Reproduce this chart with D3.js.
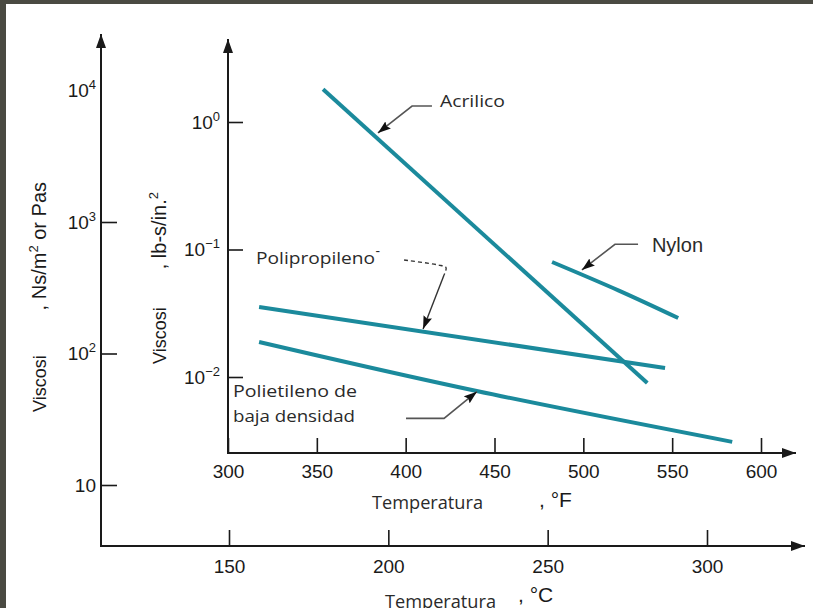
<!DOCTYPE html>
<html>
<head>
<meta charset="utf-8">
<script src="https://cdn.jsdelivr.net/npm/d3@7"></script>
<style>
  body { margin: 0; background: #fff; }
  svg { display: block; }
  .tick text { font-family: 'Liberation Sans', Arial, sans-serif; fill: #1a1a1a; }
  .tick line { stroke: #1a1a1a; stroke-width: 1.6; }
</style>
</head>
<body>
<script>
// temperature ticks
var TICKS_F = [300, 350, 400, 450, 500, 550, 600];
var TICKS_C = [150, 200, 250, 300];
// viscosity ticks
var TICKS_LB = [0.01, 0.1, 1];
var TICKS_PA = [10, 100, 1000, 10000];

// series, [temperature F, viscosity lb-s/in2]
var acrilico = [[353.5, 1.81], [536, 0.00897]];
var nylon = [[482.4, 0.0798], [520, 0.0476], [553.4, 0.029]];
var polipropileno = [[317.5, 0.0354], [546, 0.01177]];
var polietileno = [[317.5, 0.0188], [440, 0.00776], [583.8, 0.0031]];

// annotation leaders, same units as the series
var leaderAcrilico = [[414.8, 1.335], [403.6, 1.335], [384.4, 0.82]];
var leaderNylon = [[530.8, 0.1099], [517.8, 0.1099], [499.2, 0.0691]];
var leaderPPdash = [[399.1, 0.0827], [418.2, 0.0756], [422.7, 0.0722], [421.6, 0.0631]];
var leaderPP = [[421.6, 0.0631], [409.8, 0.0238]];
var leaderPE = [[400.2, 0.00474], [421.6, 0.00474], [440.1, 0.00767]];

var W = 813, H = 608;
var teal = '#1b8a9c';
var ink = '#1a1a1a';
var arial = "'Liberation Sans', Arial, sans-serif";
var soft = "'Open Sans', Lato, sans-serif";

var svg = d3.select('body').append('svg')
  .attr('width', W)
  .attr('height', H);

// dark frame on top and left
svg.append('rect').attr('width', W).attr('height', H).attr('fill', '#4a4a42');
svg.append('rect').attr('x', 6).attr('y', 4).attr('width', W - 6).attr('height', H - 4).attr('fill', '#fff');

var defs = svg.append('defs');
defs.append('marker')
  .attr('id', 'axisArrow')
  .attr('viewBox', '0 -5 14 10')
  .attr('refX', 14).attr('refY', 0)
  .attr('markerWidth', 14).attr('markerHeight', 10)
  .attr('markerUnits', 'userSpaceOnUse')
  .attr('orient', 'auto')
  .append('path').attr('d', 'M0,-5L14,0L0,5Z').attr('fill', ink);
defs.append('marker')
  .attr('id', 'leadArrow')
  .attr('viewBox', '0 -4.5 13 9')
  .attr('refX', 13).attr('refY', 0)
  .attr('markerWidth', 13).attr('markerHeight', 9)
  .attr('markerUnits', 'userSpaceOnUse')
  .attr('orient', 'auto')
  .append('path').attr('d', 'M0,-4.5L13,0L0,4.5L2,0Z').attr('fill', '#111');

// scales
var xF = d3.scaleLinear().domain([300, 600]).range([228, 761]);
var yLb = d3.scaleLog().domain([0.01, 1]).range([377, 122]);
var xC = d3.scaleLinear().domain([150, 300]).range([229, 707]);
var yPa = d3.scaleLog().domain([10, 10000]).range([485, 90.5]);

var outerX = 101, outerY = 546;
var innerX = 228, innerY = 453;

// axis lines with arrows
function axisLine(x1, y1, x2, y2) {
  svg.append('line')
    .attr('x1', x1).attr('y1', y1).attr('x2', x2).attr('y2', y2)
    .attr('stroke', ink).attr('stroke-width', 2)
    .attr('marker-end', 'url(#axisArrow)');
}
axisLine(outerX, outerY, outerX, 34);
axisLine(outerX - 1, outerY, 805, outerY);
axisLine(innerX, innerY, innerX, 39);
axisLine(innerX - 1, innerY, 796, innerY);

var supDigits = { '-2': '\u22122', '-1': '\u22121', '0': '0', '2': '2', '3': '3', '4': '4' };
function powerLabel(sel, skipOne) {
  sel.selectAll('.tick text').each(function(d) {
    var t = d3.select(this);
    var e = Math.round(Math.log10(d));
    t.text(null);
    t.append('tspan').text('10');
    if (!(skipOne && e === 1)) {
      t.append('tspan').attr('dy', -8).attr('font-size', 13).text(supDigits[String(e)]);
    }
  });
}

// outer y axis (Pa s)
var gPa = svg.append('g')
  .attr('transform', 'translate(' + outerX + ',0)')
  .call(d3.axisLeft(yPa).tickValues(TICKS_PA).tickSizeInner(-16).tickSizeOuter(0).tickPadding(5).tickFormat(''))
  .style('font-size', '19px');
gPa.select('.domain').remove();
powerLabel(gPa, true);
gPa.selectAll('.tick').filter(function(d) { return d === 10000; }).select('line').remove();

// inner y axis (lb-s/in2)
var gLb = svg.append('g')
  .attr('transform', 'translate(' + innerX + ',0)')
  .call(d3.axisLeft(yLb).tickValues(TICKS_LB).tickSizeInner(-15).tickSizeOuter(0).tickPadding(8).tickFormat(''))
  .style('font-size', '19px');
gLb.select('.domain').remove();
powerLabel(gLb, false);

// inner x axis (F)
var gF = svg.append('g')
  .attr('transform', 'translate(0,' + innerY + ')')
  .call(d3.axisBottom(xF).tickValues(TICKS_F).tickSizeInner(-15).tickSizeOuter(0).tickPadding(12))
  .style('font-size', '19px');
gF.select('.domain').remove();

// outer x axis (C)
var gC = svg.append('g')
  .attr('transform', 'translate(0,' + outerY + ')')
  .call(d3.axisBottom(xC).tickValues(TICKS_C).tickSizeInner(-16).tickSizeOuter(0).tickPadding(14))
  .style('font-size', '19px');
gC.select('.domain').remove();

// series
var line = d3.line()
  .x(function(d) { return xF(d[0]); })
  .y(function(d) { return yLb(d[1]); })
  .curve(d3.curveNatural);

[acrilico, nylon, polipropileno, polietileno].forEach(function(s) {
  svg.append('path')
    .attr('d', line(s))
    .attr('fill', 'none')
    .attr('stroke', teal)
    .attr('stroke-width', 4);
});

// leaders
var lead = d3.line()
  .x(function(d) { return xF(d[0]); })
  .y(function(d) { return yLb(d[1]); });

[leaderAcrilico, leaderNylon, leaderPE].forEach(function(s) {
  svg.append('path')
    .attr('d', lead(s))
    .attr('fill', 'none')
    .attr('stroke', '#555')
    .attr('stroke-width', 1.6)
    .attr('marker-end', 'url(#leadArrow)');
});
svg.append('path')
  .attr('d', lead.curve(d3.curveCatmullRom)(leaderPPdash))
  .attr('fill', 'none')
  .attr('stroke', '#333')
  .attr('stroke-width', 1.4)
  .attr('stroke-dasharray', '4,3');
lead.curve(d3.curveLinear);
svg.append('path')
  .attr('d', lead(leaderPP))
  .attr('fill', 'none')
  .attr('stroke', '#333')
  .attr('stroke-width', 1.4)
  .attr('marker-end', 'url(#leadArrow)');

// series labels
function label(txt, f, v, family, size, len) {
  var t = svg.append('text')
    .attr('x', xF(f)).attr('y', yLb(v))
    .attr('font-family', family)
    .attr('font-size', size)
    .attr('fill', '#2a2a2a')
    .text(txt);
  if (len) t.attr('textLength', len).attr('lengthAdjust', 'spacingAndGlyphs');
}
label('Acrilico', 419.3, 1.311, soft, 16, 65);
label('Nylon', 538.6, 0.0964, arial, 20, 0);
label('Polipropileno', 315.8, 0.0769, soft, 16, 119);
label('-', 383, 0.0889, soft, 14, 0);
label('Polietileno de', 302.8, 0.00697, soft, 16, 124);
label('baja densidad', 302.8, 0.00446, soft, 16, 122);

// axis titles
function vTitle(cx, yStart, yEnd, unitParts) {
  svg.append('text')
    .attr('transform', 'translate(' + cx + ',' + yStart + ') rotate(-90)')
    .attr('font-family', arial).attr('font-size', 18).attr('fill', ink)
    .text('Viscosi');
  var t = svg.append('text')
    .attr('transform', 'translate(' + cx + ',' + yEnd + ') rotate(-90)')
    .attr('text-anchor', 'end')
    .attr('font-family', arial).attr('font-size', 20).attr('fill', ink);
  t.append('tspan').text(unitParts[0]);
  t.append('tspan').attr('dy', -8).attr('font-size', 13).text('2');
  if (unitParts[1]) t.append('tspan').attr('dy', 8).text(unitParts[1]);
}
vTitle(46, 412, 182, [',  Ns/m', '  or Pas']);
vTitle(166, 364, 192, [',  lb-s/in.', '']);

function hTitle(x, y, unitX, unitY, unit) {
  svg.append('text')
    .attr('x', x).attr('y', y)
    .attr('font-family', soft).attr('font-size', 19).attr('fill', '#2a2a2a')
    .attr('textLength', 111).attr('lengthAdjust', 'spacingAndGlyphs')
    .text('Temperatura');
  svg.append('text')
    .attr('x', unitX).attr('y', unitY)
    .attr('font-family', arial).attr('font-size', 21).attr('fill', ink)
    .text(', \u00B0' + unit);
}
hTitle(372, 509, 539, 507, 'F');
hTitle(385, 608, 518, 602, 'C');
</script>
</body>
</html>
